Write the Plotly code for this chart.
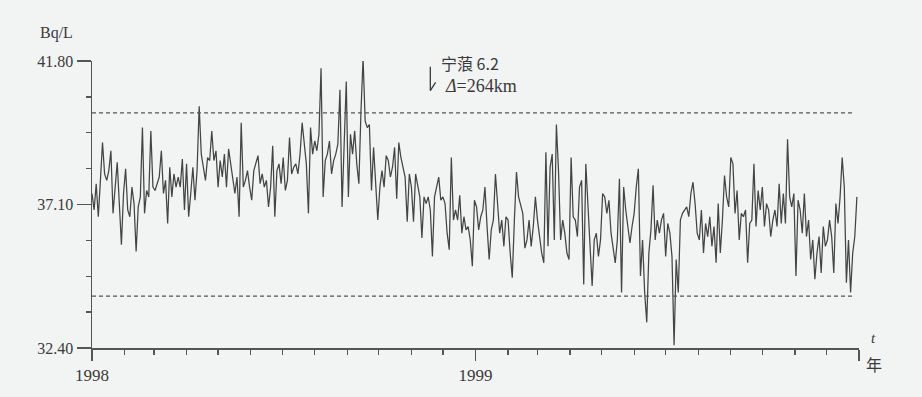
import pandas as pd
import plotly.graph_objects as go

start_date = "1998-01-01"
step = "2D"
radon = [
    # 1998 Jan - early May
    37.46, 36.92, 37.78, 36.70, 37.89, 39.13, 38.10, 37.89, 38.21, 38.86,
    36.81, 37.78, 38.48, 37.13, 35.78, 37.46, 38.27, 36.92, 36.70, 37.67,
    37.13, 35.56, 37.02, 37.35, 39.62, 36.81, 37.56, 37.35, 39.51, 37.67,
    37.56, 37.78, 38.00, 38.86, 37.46, 37.89, 36.48, 38.32, 37.35, 38.10,
    37.67, 38.00, 37.67, 38.59, 36.92, 38.43, 36.70, 37.46, 38.32, 37.24,
    38.21, 40.32, 38.75, 38.32, 37.89, 38.64, 38.54, 39.51, 38.54, 38.86,
    37.67,
    # May - Aug
    38.54, 38.00, 38.75, 37.67, 38.92, 38.43, 37.89, 37.46, 38.00, 36.70,
    39.78, 37.67, 37.89, 38.21, 37.67, 37.24, 38.21, 38.43, 38.70, 37.78,
    38.10, 37.67, 37.89, 37.02, 37.67, 39.02, 36.70, 38.21, 38.43, 37.78,
    38.64, 37.56, 37.89, 39.29, 38.10, 38.32, 38.43, 38.10, 38.75, 39.78,
    39.18, 38.43, 36.81, 39.62, 38.75, 39.18, 38.86, 39.40, 41.56, 37.35,
    38.54, 38.75, 39.18, 38.10, 38.54, 38.75, 39.08, 40.86, 37.02, 39.51,
    41.13,
    # Sep - Dec
    37.35, 39.40, 38.75, 39.51, 38.43, 37.78, 40.16, 41.89, 39.83, 39.62,
    39.72, 37.56, 38.97, 37.89, 36.59, 37.67, 38.21, 37.67, 38.70, 38.54,
    38.00, 38.32, 38.97, 37.29, 39.13, 38.64, 38.32, 38.00, 36.54, 38.10,
    37.67, 36.54, 38.10, 37.78, 37.35, 36.00, 37.35, 37.13, 37.35, 36.92,
    35.40, 37.35, 37.67, 38.00, 37.24, 37.35, 37.13, 36.16, 35.62, 38.64,
    36.59, 36.92, 36.59, 37.40, 36.16, 36.70, 36.27, 36.38, 35.94, 35.08,
    37.24,
    # 1999 Jan - Apr
    37.02, 36.27, 36.70, 36.92, 37.67, 36.38, 35.30, 36.27, 36.59, 38.10,
    37.13, 36.16, 36.59, 35.73, 36.70, 36.59, 35.51, 34.70, 36.59, 38.16,
    37.35, 37.02, 36.81, 35.67, 35.94, 36.59, 35.73, 36.38, 37.35, 36.59,
    35.94, 35.51, 35.19, 38.81, 35.73, 38.32, 38.75, 35.94, 39.72, 38.21,
    35.94, 36.59, 36.16, 35.51, 35.30, 38.64, 36.70, 36.59, 36.05, 37.67,
    37.89, 34.48, 38.43, 37.02, 35.73, 34.43, 35.94, 36.16, 35.40, 35.94,
    37.46,
    # May - Aug
    37.35, 36.81, 37.24, 36.16, 35.73, 35.19, 35.94, 37.94, 34.22, 37.67,
    36.92, 36.38, 35.84, 36.38, 36.81, 37.67, 38.27, 34.76, 35.94, 34.22,
    33.24, 35.51, 36.27, 37.73, 35.94, 36.59, 36.16, 36.59, 36.81, 35.40,
    36.48, 36.16, 35.40, 32.49, 35.30, 34.22, 36.59, 36.81, 36.92, 37.02,
    36.70, 37.46, 37.83, 37.13, 36.16, 35.94, 36.92, 35.51, 36.48, 36.05,
    36.70, 35.73, 36.38, 35.19, 37.13, 35.51, 36.59, 38.05, 37.35, 37.02,
    38.64,
    # Sep - Dec
    38.43, 36.81, 37.56, 35.94, 36.81, 36.70, 36.92, 35.19, 36.48, 36.59,
    38.43, 36.38, 37.56, 36.92, 37.67, 36.38, 37.13, 36.92, 36.05, 36.59,
    36.92, 36.38, 37.78, 36.48, 37.46, 36.48, 39.24, 37.35, 37.02, 37.46,
    34.76, 37.24, 36.92, 36.16, 37.46, 36.05, 36.59, 35.30, 35.94, 34.65,
    35.51, 36.05, 34.86, 36.38, 35.73, 35.94, 36.59, 36.05, 34.86, 37.13,
    36.48, 37.35, 38.64, 37.67, 34.54, 35.94, 34.22, 35.51, 36.05, 37.35,
]

upper_limit = 40.10
lower_limit = 34.10
y_min, y_max = 32.40, 41.80
y_major = [32.40, 37.10, 41.80]
y_major_text = ["32.40", "37.10", "41.80"]
x_major = ["1998-01-01", "1999-01-01", "2000-01-01"]
x_major_text = ["1998", "1999", ""]
quake_date = "1998-11-19"
quake_label1 = "宁蒗 6.2"
quake_label2 = "<i>Δ</i>=264km"

dates = pd.date_range(start_date, periods=len(radon), freq=step)

INK = "#3a3a3a"
AX = "#555555"
SERIF = "Liberation Serif, Times New Roman, serif"
BG = "#f2f3f3"

W, H = 922, 397
L, R, T, B = 92, 63, 61, 46


def px_to_paper(px, py):
    return (px - L) / (W - L - R), 1 - (py - T) / (H - T - B)


fig = go.Figure()
fig.add_trace(go.Scatter(x=dates, y=radon, mode="lines",
                         line=dict(color="#444444", width=1.25),
                         hoverinfo="skip", showlegend=False))

x_end_dash = "1999-12-28"
for lim in (upper_limit, lower_limit):
    fig.add_shape(type="line", xref="x", yref="y",
                  x0=dates[0], x1=x_end_dash, y0=lim, y1=lim,
                  line=dict(color=AX, width=1.3, dash="4px,3px"))

# earthquake marker (half-arrow pointing down)
qd = pd.Timestamp(quake_date)
fig.add_shape(type="line", xref="x", yref="y", x0=qd, x1=qd, y0=41.61, y1=40.83,
              line=dict(color=INK, width=1.3))
fig.add_shape(type="line", xref="x", yref="y", x0=qd, x1=qd + pd.Timedelta(days=5),
              y0=40.83, y1=41.10, line=dict(color=INK, width=1.3))

fig.add_annotation(x=qd + pd.Timedelta(days=8), y=41.72, xref="x", yref="y",
                   text=quake_label1, showarrow=False, xanchor="left", yanchor="middle",
                   font=dict(family="Noto Sans CJK SC", size=16, color=INK))
fig.add_annotation(x=qd + pd.Timedelta(days=12), y=40.98, xref="x", yref="y",
                   text=quake_label2, showarrow=False, xanchor="left", yanchor="middle",
                   font=dict(family=SERIF, size=18, color=INK))

for txt, px, py, fam, size in [("Bq/L", 56, 33, SERIF, 16),
                               ("<i>t</i>", 873, 341, SERIF, 15),
                               ("年", 874, 367, "Noto Sans CJK SC", 16)]:
    ax_, ay_ = px_to_paper(px, py)
    fig.add_annotation(x=ax_, y=ay_, xref="paper", yref="paper", text=txt,
                       showarrow=False, xanchor="center", yanchor="middle",
                       font=dict(family=fam, size=size, color=INK))

fig.update_layout(
    width=W, height=H,
    margin=dict(l=L, r=R, t=T, b=B, pad=0),
    paper_bgcolor=BG, plot_bgcolor=BG,
    font=dict(family=SERIF, size=16, color=INK),
    xaxis=dict(
        type="date", range=["1998-01-01", "2000-01-01"],
        showgrid=False, zeroline=False,
        showline=True, linecolor=AX, linewidth=1.5,
        tickmode="array", tickvals=x_major, ticktext=x_major_text,
        ticks="outside", ticklen=11, tickwidth=1.5, tickcolor=AX,
        tickfont=dict(family=SERIF, size=17, color=INK),
        minor=dict(tickmode="linear", tick0="1998-01-01", dtick="M1",
                   ticks="outside", ticklen=5, tickwidth=1.3, tickcolor=AX,
                   showgrid=False),
    ),
    yaxis=dict(
        range=[y_min, y_max],
        showgrid=False, zeroline=False,
        showline=True, linecolor=AX, linewidth=1.5,
        tickmode="array", tickvals=y_major, ticktext=y_major_text,
        ticks="outside", ticklen=14, tickwidth=1.5, tickcolor=AX,
        tickfont=dict(family=SERIF, size=16, color=INK),
        minor=dict(tickmode="linear", tick0=y_min, dtick=(y_max - y_min) / 8,
                   ticks="outside", ticklen=5, tickwidth=1.3, tickcolor=AX,
                   showgrid=False),
    ),
)

fig.write_html(
    "out.html",
    config={"displayModeBar": False, "staticPlot": True},
    post_script="document.body.style.margin='0';document.body.style.background='#f2f3f3';"
                "document.documentElement.style.background='#f2f3f3';",
)
